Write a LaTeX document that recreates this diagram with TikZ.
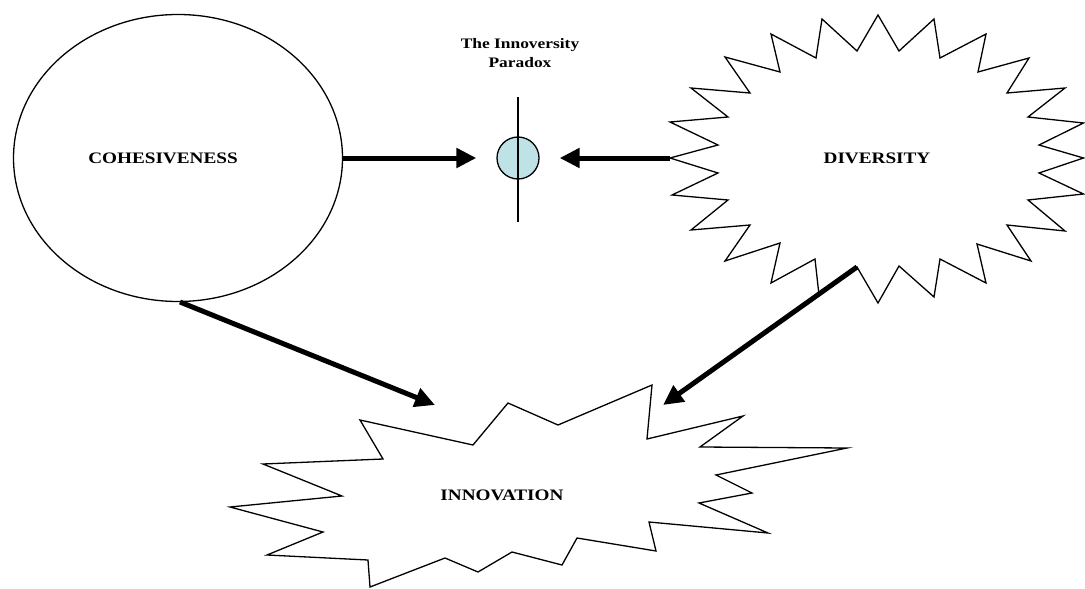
\documentclass[tikz,border=0pt]{standalone}
\usepackage{fontspec}
\setmainfont{Liberation Serif}
\newfontfamily\labfont[FakeStretch=1.2]{Liberation Serif}
\usetikzlibrary{arrows.meta,shapes.geometric}
\definecolor{paracyan}{RGB}{190,226,230}
\tikzset{
  outline/.style={draw=black, line width=1.3pt, line join=miter},
  biglabel/.style={font=\labfont\fontsize{16}{18}\selectfont\bfseries, text=black, inner sep=0pt},
  smalllabel/.style={font=\labfont\fontsize{14.5}{19}\selectfont\bfseries, text=black, align=center, inner sep=0pt},
  fatarrow/.style={line width=5pt, -{Triangle[length=20pt,width=19pt]}},
}
\begin{document}
\begin{tikzpicture}[x=1pt,y=-1pt]
\useasboundingbox (0,0) rectangle (1085,589);
% Cohesiveness ellipse
\node[outline, ellipse, minimum width=329pt, minimum height=287pt, inner sep=0pt] (coh) at (178,158) {};
\node[biglabel] (cohtext) at (163,158) {COHESIVENESS};
% Diversity star
\draw[outline] (878,15) -- (899,51) -- (934,19) -- (940,58) -- (986,34) -- (978,72) -- (1029,58) -- (1007,93) -- (1065,88) -- (1028,117) -- (1083.5,123) -- (1039,145) -- (1083.5,158) -- (1039,173) -- (1083.5,194) -- (1028,200) -- (1065,231) -- (1007,225) -- (1031,261) -- (977,244) -- (986,283) -- (940,259) -- (934,297) -- (899,266) -- (878,303) -- (857,267) -- (819,295) -- (815,259) -- (771,283) -- (780,243) -- (725,261) -- (750,225) -- (691,230) -- (728,200) -- (672,195) -- (718,173) -- (670,158) -- (718,145) -- (670,122) -- (728,117) -- (691,88) -- (750,93) -- (725,57) -- (780,72) -- (771,34) -- (816,58) -- (822,19) -- (857,51) -- cycle;
\coordinate (divW) at (670,158);
\coordinate (divS) at (857,267);
\node[biglabel] (divtext) at (877,158) {DIVERSITY};
% Innovation star
\draw[outline] (360,420) -- (473,445) -- (508,403) -- (558,425) -- (652,385) -- (647,439) -- (743,416) -- (700,447) -- (847,448) -- (716,475) -- (752,493) -- (699,503) -- (768,533) -- (649,522) -- (656,551) -- (577,538) -- (562,565) -- (512,552) -- (478,572) -- (445,558) -- (370,587) -- (368,560) -- (267,555) -- (323,532) -- (230,507) -- (342,496) -- (263,464) -- (383,459) -- cycle;
\node[biglabel] (innotext) at (502,495) {INNOVATION};
\coordinate (innoL) at (435,405);
\coordinate (innoR) at (663,405);
% Paradox
\coordinate (vtop) at (518,97);
\coordinate (vbot) at (518,222);
\node[circle, draw=black, line width=1.3pt, fill=paracyan, minimum size=42pt, inner sep=0pt] (par) at (518,158) {};
\draw[line width=1.3pt] (vtop) -- (vbot);
\node[smalllabel] (partext) at (520,53) {The Innoversity\\Paradox};
% Connectors
\coordinate (cohS) at (180,302);
\draw[fatarrow] (coh.east) -- ([xshift=-20pt]par.west);
\draw[fatarrow] (divW) -- ([xshift=20pt]par.east);
\draw[fatarrow] (cohS) -- (innoL);
\draw[fatarrow] (divS) -- (innoR);
\end{tikzpicture}
\end{document}
